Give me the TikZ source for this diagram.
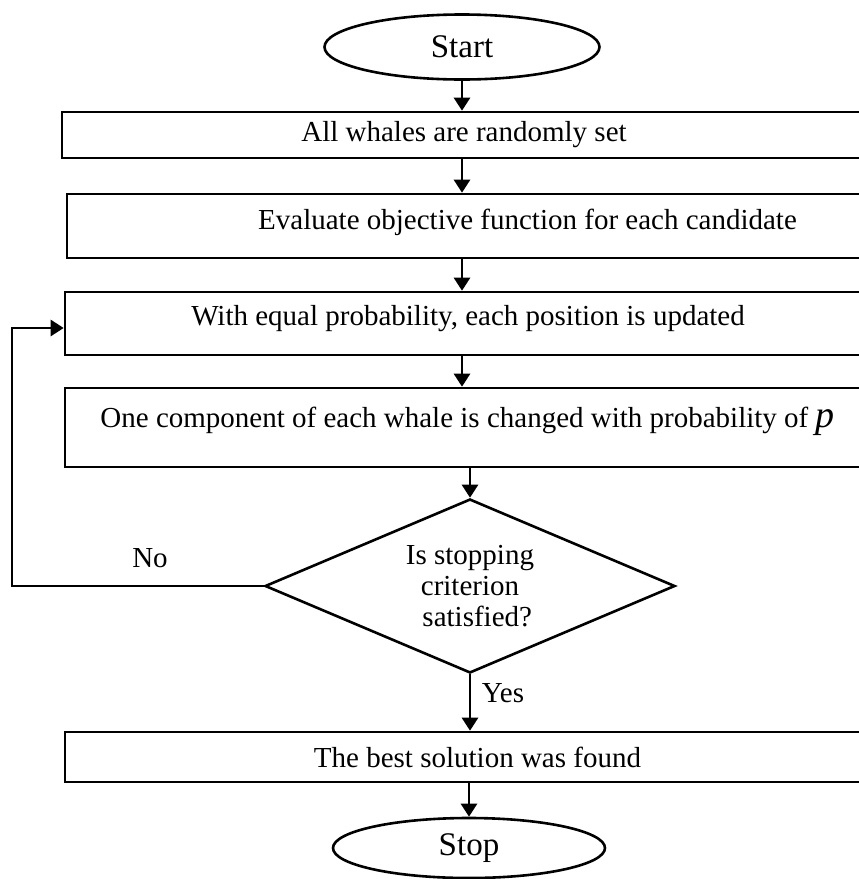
\documentclass[tikz,border=0pt]{standalone}
\usepackage{fontspec}
\setmainfont{Liberation Serif}
\usetikzlibrary{shapes.geometric,arrows.meta}

\begin{document}
\begin{tikzpicture}[x=1pt, y=-1pt, line width=2.6pt,
  every node/.style={font=\fontsize{29}{31}\selectfont, inner sep=0pt},
  stepbox/.style={draw, rectangle, minimum height=#1},
  term/.style={draw, ellipse, font=\fontsize{33}{35}\selectfont},
  arr/.style={-{Triangle[length=13pt,width=16pt]}}]
\useasboundingbox (0,0) rectangle (859,879);
% terminals
\node[term, minimum width=275pt, minimum height=65pt] (start) at (462,47) {Start};
\node[term, minimum width=272pt, minimum height=60pt] (stop) at (469,848) {Stop};
% process boxes (run off the right edge)
\node[stepbox=46pt, minimum width=804pt] (init) at (464,135) {All whales are randomly set};
\node[stepbox=64pt, minimum width=799pt] (eval) at (466.5,226) {};
\node (evaltxt) at ([xshift=61pt,yshift=4pt]eval.center) {Evaluate objective function for each candidate};
\node[stepbox=63pt, minimum width=801pt] (update) at (465.5,323.5) {};
\node (updatetxt) at ([xshift=2.5pt,yshift=5pt]update.center) {With equal probability, each position is updated};
\node[stepbox=79pt, minimum width=801pt] (change) at (465.5,427.5) {};
\node (changetxt) at ([xshift=2pt,yshift=6pt]change.center) {One component of each whale is changed with probability of {\fontsize{38}{31}\selectfont\textit{p}}};
\node[stepbox=50pt, minimum width=801pt] (best) at (465.5,757) {};
\node (besttxt) at ([xshift=12pt]best.center) {The best solution was found};
% decision
\node[draw, diamond, aspect=2.36, minimum width=410pt, minimum height=174pt, align=center] (check) at (470,586) {Is stopping\\criterion\\\ \ satisfied?};
\node (no) at (150,558) {No};
\node (yes) at (503,693) {Yes};
\coordinate (loop) at (12,586);
% connectors
\draw[arr] (start.south) -- (start.south |- init.north);
\draw[arr] (init.south -| start.south) -- (start.south |- eval.north);
\draw[arr] (eval.south -| start.south) -- (start.south |- update.north);
\draw[arr] (update.south -| start.south) -- (start.south |- change.north);
\draw[arr] (change.south -| check.north) -- (check.north);
\draw[arr] (check.south) -- (check.south |- best.north);
\draw[arr] (best.south -| stop.north) -- (stop.north);
\draw[arr] (check.west) -- (loop) |- ([yshift=-4.5pt]update.west);
\end{tikzpicture}
\end{document}
